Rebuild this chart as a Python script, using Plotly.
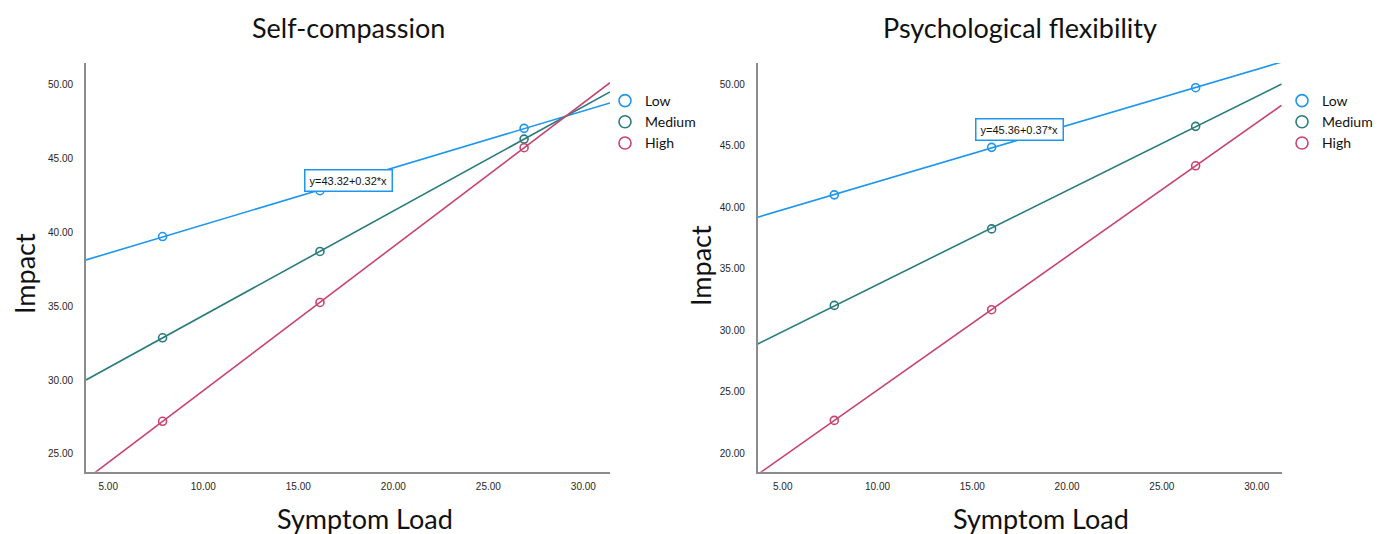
import numpy as np
import plotly.graph_objects as go

# ---------------- data ----------------
groups = ["Low", "Medium", "High"]
group_colors = ["#1E96EE", "#2A7B7D", "#C8446E"]

panel_titles = ["Self-compassion", "Psychological flexibility"]
x_title = "Symptom Load"
y_title = "Impact"

# Self-compassion panel
sc_x = [7.86, 16.14, 26.88]
sc_low = [39.71, 42.81, 47.03]
sc_medium = [32.86, 38.70, 46.30]
sc_high = [27.21, 35.25, 45.72]
sc_equation = "y=43.32+0.32*x"

# Psychological flexibility panel
pf_x = [7.72, 16.02, 26.78]
pf_low = [41.01, 44.87, 49.72]
pf_medium = [32.02, 38.24, 46.58]
pf_high = [22.67, 31.67, 43.37]
pf_equation = "y=45.36+0.37*x"

x_tickvals = [5, 10, 15, 20, 25, 30]
sc_y_tickvals = [25, 30, 35, 40, 45, 50]
pf_y_tickvals = [20, 25, 30, 35, 40, 45, 50]

sc_xrange = [3.83, 31.4]
sc_yrange = [23.8, 51.45]
pf_xrange = [3.68, 31.32]
pf_yrange = [18.5, 51.73]

# ---------------- figure ----------------
W, H = 1387, 534
OFF = 8  # page body margin in the browser

fig = go.Figure()

panels = [
    dict(x=sc_x, ys=[sc_low, sc_medium, sc_high], xr=sc_xrange, yr=sc_yrange,
         xa="x", ya="y", legend="legend"),
    dict(x=pf_x, ys=[pf_low, pf_medium, pf_high], xr=pf_xrange, yr=pf_yrange,
         xa="x2", ya="y2", legend="legend2"),
]

for p in panels:
    for name, col, ys in zip(groups, group_colors, p["ys"]):
        slope, icpt = np.polyfit(p["x"], ys, 1)
        xl = np.array(p["xr"])
        fig.add_trace(go.Scatter(
            x=xl, y=icpt + slope * xl, mode="lines",
            line=dict(color=col, width=1.6),
            xaxis=p["xa"], yaxis=p["ya"], showlegend=False, hoverinfo="skip"))
    for name, col, ys in zip(groups, group_colors, p["ys"]):
        fig.add_trace(go.Scatter(
            x=p["x"], y=ys, mode="markers", name=name, legendgroup=name,
            marker=dict(symbol="circle-open", size=8, color=col,
                        line=dict(color=col, width=1.6)),
            xaxis=p["xa"], yaxis=p["ya"], showlegend=False))
    # legend entries (larger open circles, as in the original legend)
    for name, col in zip(groups, group_colors):
        fig.add_trace(go.Scatter(
            x=[None], y=[None], mode="markers", name=name, legendgroup=name,
            marker=dict(symbol="circle-open", size=12, color=col,
                        line=dict(color=col, width=1.6)),
            xaxis=p["xa"], yaxis=p["ya"], legend=p["legend"], showlegend=True))


def px_x(v):
    return (v - OFF) / W


def px_y(v):
    return 1 - (v - OFF) / H


axis_common = dict(showline=True, linecolor="#8c8c8c", linewidth=1.8,
                   showgrid=False, zeroline=False, ticks="",
                   tickformat=".2f",
                   tickfont=dict(family="Arial, Liberation Sans", size=10, color="#262626"))

legend_common = dict(xanchor="left", yanchor="top",
                     font=dict(family="Lato", size=14, color="#111"),
                     itemwidth=30, tracegroupgap=0, bgcolor="rgba(0,0,0,0)")

fig.update_layout(
    width=W, height=H,
    margin=dict(l=0, r=0, t=0, b=0),
    paper_bgcolor="white", plot_bgcolor="white",
    xaxis=dict(domain=[px_x(86), px_x(610)], range=sc_xrange, tickvals=x_tickvals,
               anchor="y", ticklabelstandoff=4, **axis_common),
    yaxis=dict(domain=[px_y(471.7), px_y(63)], range=sc_yrange, tickvals=sc_y_tickvals,
               anchor="x", ticklabelstandoff=9, **axis_common),
    xaxis2=dict(domain=[px_x(757.7), px_x(1281.7)], range=pf_xrange, tickvals=x_tickvals,
                anchor="y2", ticklabelstandoff=4, **axis_common),
    yaxis2=dict(domain=[px_y(471.7), px_y(63)], range=pf_yrange, tickvals=pf_y_tickvals,
                anchor="x2", ticklabelstandoff=9, **axis_common),
    legend=dict(x=px_x(605), y=px_y(85), **legend_common),
    legend2=dict(x=px_x(1282), y=px_y(85), **legend_common),
    showlegend=True,
)

title_font = dict(family="Lato", size=27, color="#111")
annots = [
    dict(text=panel_titles[0], x=px_x(348), y=px_y(28)),
    dict(text=panel_titles[1], x=px_x(1020), y=px_y(28)),
    dict(text=x_title, x=px_x(365), y=px_y(518)),
    dict(text=x_title, x=px_x(1041), y=px_y(518)),
    dict(text=y_title, x=px_x(24), y=px_y(274), textangle=-90),
    dict(text=y_title, x=px_x(700), y=px_y(266), textangle=-90),
]
for a in annots:
    fig.add_annotation(xref="paper", yref="paper", showarrow=False,
                       xanchor="center", yanchor="middle", font=title_font, **a)

eq_font = dict(family="Arial, Liberation Sans", size=11, color="#111")
fig.add_annotation(xref="x", yref="y", x=17.65, y=43.49, text=sc_equation,
                   showarrow=False, font=eq_font, bgcolor="white",
                   bordercolor=group_colors[0], borderwidth=1.5, borderpad=4)
fig.add_annotation(xref="x2", yref="y2", x=17.49, y=46.33, text=pf_equation,
                   showarrow=False, font=eq_font, bgcolor="white",
                   bordercolor=group_colors[0], borderwidth=1.5, borderpad=4)

fig.write_html("out.html")
